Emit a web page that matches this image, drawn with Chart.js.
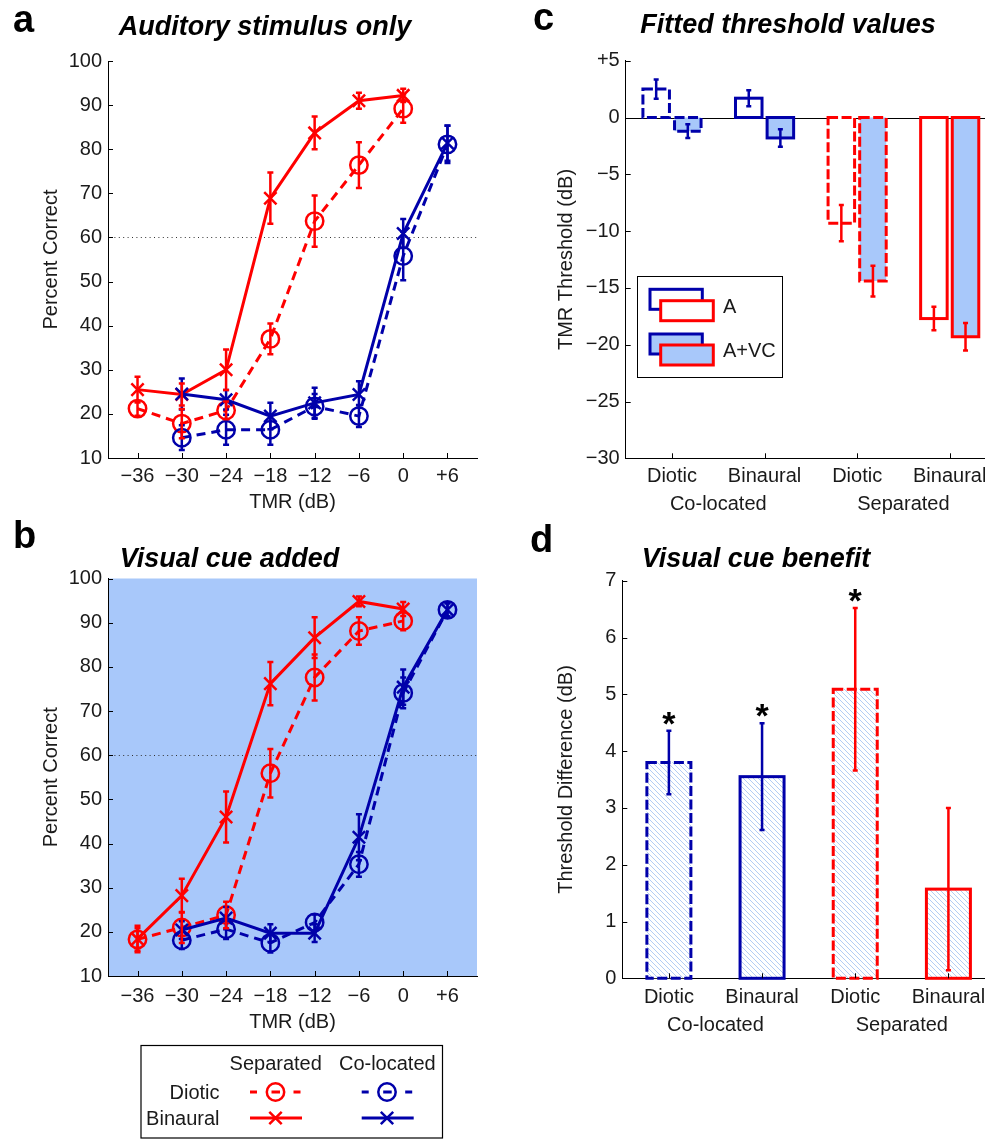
<!DOCTYPE html>
<html>
<head>
<meta charset="utf-8">
<script src="https://cdn.jsdelivr.net/npm/chart.js@4.4.0/dist/chart.umd.min.js"></script>
<style>
html, body { margin: 0; padding: 0; background: #fff; overflow: hidden; width: 985px; height: 1139px; }
canvas { position: absolute; }
</style>
</head>
<body>
<canvas id="ca" width="490" height="530" style="left:0;top:0"></canvas>
<canvas id="cb" width="490" height="634" style="left:0;top:505px"></canvas>
<canvas id="cc" width="496" height="530" style="left:500px;top:0"></canvas>
<canvas id="cd" width="495" height="545" style="left:500px;top:505px"></canvas>
<script>
// ---- panels a & b: percent correct vs TMR ----
const tmrTicks = [-36, -30, -24, -18, -12, -6, 0, 6];
const tmrLabels = ['\u221236', '\u221230', '\u221224', '\u221218', '\u221212', '\u22126', '0', '+6'];
const pctTicks = [10, 20, 30, 40, 50, 60, 70, 80, 90, 100];
const pctLabels = ['10', '20', '30', '40', '50', '60', '70', '80', '90', '100'];
const criterion = 60;

const tmrSep = [-36, -30, -24, -18, -12, -6, 0];
const tmrCol = [-30, -24, -18, -12, -6, 0, 6];

// a: auditory stimulus only
const aSepBin = [25.5, 24.4, 30.0, 68.9, 83.7, 91.0, 92.2];
const aSepBinErr = [2.9, 2.5, 4.6, 5.8, 3.7, 1.8, 1.5];
const aSepDio = [21.2, 17.8, 20.8, 37.0, 63.7, 76.4, 89.2];
const aSepDioErr = [1.6, 3.3, 2.0, 3.5, 5.8, 5.2, 3.2];
const aColBin = [24.5, 23.2, 19.5, 22.5, 24.4, 60.9, 81.4];
const aColBinErr = [3.5, 2.2, 3.0, 3.4, 3.0, 3.3, 4.0];
const aColDio = [14.6, 16.4, 16.4, 21.7, 19.5, 55.8, 81.1];
const aColDioErr = [2.8, 3.4, 3.4, 2.8, 2.5, 5.5, 4.2];

// b: visual cue added
const bSepBin = [18.4, 28.2, 46.0, 76.2, 86.6, 94.8, 93.1];
const bSepBinErr = [3.0, 3.8, 5.8, 4.9, 4.6, 1.1, 1.6];
const bSepDio = [18.3, 21.0, 23.8, 55.9, 77.6, 88.1, 90.4];
const bSepDioErr = [2.5, 3.5, 3.0, 5.5, 5.2, 3.1, 2.1];
const bColBin = [20.4, 23.1, 19.7, 19.7, 41.4, 75.4, 92.9];
const bColBinErr = [2.0, 2.5, 2.0, 2.0, 5.2, 4.0, 1.5];
const bColDio = [18.1, 20.6, 17.5, 22.1, 35.3, 74.1, 92.9];
const bColDioErr = [2.0, 2.2, 2.2, 1.8, 2.8, 3.5, 1.5];

// ---- panels c & d: thresholds ----
const conditions = ['Diotic', 'Binaural', 'Diotic', 'Binaural'];
const groups = ['Co-located', 'Separated'];

const thrA = [2.5, 1.7, -9.3, -17.7];
const thrAErr = [0.85, 0.7, 1.6, 1.03];
const thrAVC = [-1.2, -1.8, -14.4, -19.3];
const thrAVCErr = [0.6, 0.77, 1.35, 1.2];
const thrTicks = [5, 0, -5, -10, -15, -20, -25, -30];
const thrLabels = ['+5', '0', '\u22125', '\u221210', '\u221215', '\u221220', '\u221225', '\u221230'];

const benefit = [3.8, 3.55, 5.09, 1.57];
const benefitErr = [0.56, 0.94, 1.43, 1.43];
const benefitSig = [true, true, true, false];
const benTicks = [0, 1, 2, 3, 4, 5, 6, 7];
const benLabels = ['0', '1', '2', '3', '4', '5', '6', '7'];

const RED = '#ff0000';
const BLUE = '#0000aa';
const LIGHT = '#a8c8fa';
const INK = '#1a1a1a';
const FONT = '"Liberation Sans", Arial, Helvetica, sans-serif';
const condColor = [BLUE, BLUE, RED, RED];
const condDashed = [true, false, true, false];

Chart.defaults.font.family = FONT;
Chart.defaults.color = INK;

function series(label, xs, ys, color, dashed, style) {
    return {
        label: label,
        data: xs.map((x, i) => ({ x: x, y: ys[i] })),
        borderColor: color,
        borderWidth: 3,
        borderDash: dashed ? [9, 6] : [],
        tension: 0,
        pointStyle: style,
        pointRadius: 8.7,
        pointHoverRadius: 8.7,
        pointBorderWidth: 2.5,
        pointBorderColor: color,
        pointBackgroundColor: 'rgba(0,0,0,0)'
    };
}

function yAxis(min, max, width, ticks, labels, title, titlePad) {
    return {
        type: 'linear', min: min, max: max,
        afterFit: s => { s.width = width; },
        afterBuildTicks: s => { s.ticks = ticks.map(v => ({ value: v })); },
        grid: { display: false, drawTicks: false },
        border: { display: true, color: '#000', width: 1 },
        ticks: { padding: 6, color: INK, font: { size: 20 }, autoSkip: false,
                 callback: v => labels[ticks.indexOf(v)] },
        title: { display: true, text: title, color: INK, font: { size: 20 },
                 padding: { top: titlePad, bottom: 0 } }
    };
}

function xLinear(height, tickPad, titlePad) {
    return {
        type: 'linear', min: -40, max: 10,
        afterFit: s => { s.height = height; },
        afterBuildTicks: s => { s.ticks = tmrTicks.map(v => ({ value: v })); },
        grid: { display: false, drawTicks: false },
        border: { display: true, color: '#000', width: 1 },
        ticks: { padding: tickPad, color: INK, font: { size: 20 }, autoSkip: false, maxRotation: 0,
                 callback: v => tmrLabels[tmrTicks.indexOf(v)] },
        title: { display: true, text: 'TMR (dB)', color: INK, font: { size: 20 },
                 padding: { top: 0, bottom: titlePad } }
    };
}

function xCategory(height, tickPad) {
    return {
        type: 'category',
        afterFit: s => { s.height = height; },
        grid: { display: false, drawTicks: false, offset: true },
        border: { display: true, color: '#000', width: 1 },
        ticks: { padding: tickPad, color: INK, font: { size: 20 }, autoSkip: false, maxRotation: 0 }
    };
}

function baseOptions(padTop, padRight) {
    return {
        responsive: false,
        animation: false,
        events: [],
        layout: { padding: { top: padTop, right: padRight, left: 0, bottom: 0 } },
        plugins: { legend: { display: false }, tooltip: { enabled: false } }
    };
}

// ---- plugins ----
function errorBars(errLists, colorOf, cap) {
    return {
        id: 'errorBars',
        afterDatasetsDraw(chart) {
            const ctx = chart.ctx;
            const ys = chart.scales.y;
            chart.data.datasets.forEach((ds, di) => {
                const errs = errLists[di];
                chart.getDatasetMeta(di).data.forEach((el, i) => {
                    const raw = ds.data[i];
                    const v = typeof raw === 'object' ? raw.y : raw;
                    const top = ys.getPixelForValue(v + errs[i]);
                    const bot = ys.getPixelForValue(v - errs[i]);
                    ctx.save();
                    ctx.strokeStyle = colorOf(ds, i);
                    ctx.lineWidth = 2.5;
                    ctx.beginPath();
                    ctx.moveTo(el.x, top); ctx.lineTo(el.x, bot);
                    ctx.moveTo(el.x - cap, top); ctx.lineTo(el.x + cap, top);
                    ctx.moveTo(el.x - cap, bot); ctx.lineTo(el.x + cap, bot);
                    ctx.stroke();
                    ctx.restore();
                });
            });
        }
    };
}

const inwardTicks = {
    id: 'inwardTicks',
    afterDraw(chart) {
        const ctx = chart.ctx, a = chart.chartArea, L = 5;
        ctx.save();
        ctx.strokeStyle = '#000';
        ctx.lineWidth = 1;
        ctx.beginPath();
        chart.scales.x.ticks.forEach((t, i) => {
            const px = Math.round(chart.scales.x.getPixelForTick(i)) + 0.5;
            ctx.moveTo(px, a.bottom); ctx.lineTo(px, a.bottom - L);
        });
        chart.scales.y.ticks.forEach((t, i) => {
            const py = Math.round(chart.scales.y.getPixelForTick(i)) + 0.5;
            ctx.moveTo(a.left, py); ctx.lineTo(a.left + L, py);
        });
        ctx.stroke();
        ctx.restore();
    }
};

const criterionLine = {
    id: 'criterionLine',
    beforeDatasetsDraw(chart) {
        const ctx = chart.ctx, a = chart.chartArea;
        const y = Math.round(chart.scales.y.getPixelForValue(criterion)) + 0.5;
        ctx.save();
        ctx.strokeStyle = '#333';
        ctx.lineWidth = 1;
        ctx.setLineDash([1, 3.4]);
        ctx.beginPath();
        ctx.moveTo(a.left + 2, y); ctx.lineTo(a.right, y);
        ctx.stroke();
        ctx.restore();
    }
};

const blueBackground = {
    id: 'blueBackground',
    beforeDraw(chart) {
        const a = chart.chartArea;
        chart.ctx.save();
        chart.ctx.fillStyle = LIGHT;
        chart.ctx.fillRect(a.left, a.top, a.right - a.left, a.bottom - a.top);
        chart.ctx.restore();
    }
};

const zeroLine = {
    id: 'zeroLine',
    beforeDatasetsDraw(chart) {
        const ctx = chart.ctx, a = chart.chartArea;
        const y = Math.round(chart.scales.y.getPixelForValue(0)) + 0.5;
        ctx.save();
        ctx.strokeStyle = '#000';
        ctx.lineWidth = 1;
        ctx.beginPath();
        ctx.moveTo(a.left, y); ctx.lineTo(a.right, y);
        ctx.stroke();
        ctx.restore();
    }
};

const barOutline = {
    id: 'barOutline',
    afterDatasetsDraw(chart) {
        const ctx = chart.ctx;
        chart.data.datasets.forEach((ds, di) => {
            chart.getDatasetMeta(di).data.forEach((bar, i) => {
                const p = bar.getProps(['x', 'y', 'base', 'width'], true);
                ctx.save();
                ctx.strokeStyle = condColor[i];
                ctx.lineWidth = 3;
                ctx.setLineDash(condDashed[i] ? [10, 3.5] : []);
                ctx.strokeRect(p.x - p.width / 2, Math.min(p.y, p.base), p.width, Math.abs(p.base - p.y));
                ctx.restore();
            });
        });
    }
};

function groupLabels(offset) {
    return {
        id: 'groupLabels',
        afterDraw(chart) {
            const ctx = chart.ctx, xs = chart.scales.x;
            ctx.save();
            ctx.fillStyle = INK;
            ctx.font = '20px ' + FONT;
            ctx.textAlign = 'center';
            ctx.textBaseline = 'middle';
            groups.forEach((g, k) => {
                const x = (xs.getPixelForTick(2 * k) + xs.getPixelForTick(2 * k + 1)) / 2;
                ctx.fillText(g, x, chart.chartArea.bottom + offset);
            });
            ctx.restore();
        }
    };
}

function panelText(letter, lx, ly, title, tx, ty) {
    return {
        id: 'panelText',
        afterDraw(chart) {
            const ctx = chart.ctx;
            ctx.save();
            ctx.fillStyle = '#000';
            ctx.textBaseline = 'alphabetic';
            ctx.font = 'bold 38px ' + FONT;
            ctx.textAlign = 'left';
            ctx.fillText(letter, lx, ly);
            ctx.font = 'italic bold 27px ' + FONT;
            ctx.textAlign = 'center';
            ctx.fillText(title, tx, ty);
            ctx.restore();
        }
    };
}

function markCircle(ctx, x, y) {
    ctx.beginPath();
    ctx.arc(x, y, 8.7, 0, Math.PI * 2);
    ctx.stroke();
}
function markCross(ctx, x, y) {
    const d = 6.2;
    ctx.beginPath();
    ctx.moveTo(x - d, y - d); ctx.lineTo(x + d, y + d);
    ctx.moveTo(x - d, y + d); ctx.lineTo(x + d, y - d);
    ctx.stroke();
}

// legend under panel b
const lineLegend = {
    id: 'lineLegend',
    afterDraw(chart) {
        const ctx = chart.ctx;
        ctx.save();
        ctx.strokeStyle = '#000';
        ctx.lineWidth = 1.2;
        ctx.strokeRect(141, 540.5, 301.5, 92.5);
        ctx.fillStyle = INK;
        ctx.font = '20px ' + FONT;
        ctx.textBaseline = 'alphabetic';
        ctx.textAlign = 'center';
        ctx.fillText('Separated', 275.7, 564.5);
        ctx.fillText('Co-located', 387.3, 564.5);
        ctx.textAlign = 'right';
        ctx.fillText('Diotic', 219.5, 594);
        ctx.fillText('Binaural', 219.5, 620);
        [[RED, 250, 275.5], [BLUE, 361.7, 387]].forEach(([c, x0, xm]) => {
            ctx.strokeStyle = c;
            ctx.lineWidth = 3;
            ctx.setLineDash([7, 14.5, 8.5, 13.5]);
            ctx.beginPath(); ctx.moveTo(x0, 587); ctx.lineTo(x0 + 51, 587); ctx.stroke();
            ctx.setLineDash([]);
            ctx.lineWidth = 2.5;
            markCircle(ctx, xm, 587);
            ctx.lineWidth = 3;
            ctx.beginPath(); ctx.moveTo(x0, 613); ctx.lineTo(x0 + 52, 613); ctx.stroke();
            ctx.lineWidth = 2.5;
            markCross(ctx, xm, 613);
        });
        ctx.restore();
    }
};

// legend inside panel c
const barLegend = {
    id: 'barLegend',
    afterDraw(chart) {
        const ctx = chart.ctx;
        ctx.save();
        ctx.fillStyle = '#fff';
        ctx.fillRect(137.3, 276, 145, 101.3);
        ctx.strokeStyle = '#000';
        ctx.lineWidth = 1;
        ctx.strokeRect(137.5, 276.5, 145, 101);
        [['A', '#fff', 289.3, 300.7, 313], ['A+VC', LIGHT, 334, 345, 357]].forEach(([t, fill, yb, yr, yt]) => {
            ctx.lineWidth = 3;
            ctx.fillStyle = fill;
            ctx.strokeStyle = BLUE;
            ctx.fillRect(150, yb, 52.3, 20);
            ctx.strokeRect(150, yb, 52.3, 20);
            ctx.strokeStyle = RED;
            ctx.fillRect(160.7, yr, 52.6, 20);
            ctx.strokeRect(160.7, yr, 52.6, 20);
            ctx.fillStyle = INK;
            ctx.font = '20px ' + FONT;
            ctx.textAlign = 'left';
            ctx.fillText(t, 223, yt);
        });
        ctx.restore();
    }
};

const stars = {
    id: 'stars',
    afterDatasetsDraw(chart) {
        const ctx = chart.ctx, ys = chart.scales.y;
        ctx.save();
        ctx.fillStyle = '#000';
        ctx.font = 'bold 34px ' + FONT;
        ctx.textAlign = 'center';
        ctx.textBaseline = 'alphabetic';
        chart.getDatasetMeta(0).data.forEach((bar, i) => {
            if (!benefitSig[i]) return;
            const y = ys.getPixelForValue(benefit[i] + benefitErr[i]) - 16;
            ctx.fillText('*', bar.x, y + 20);
        });
        ctx.restore();
    }
};

function hatchPattern() {
    const c = document.createElement('canvas');
    c.width = 5; c.height = 5;
    const g = c.getContext('2d');
    g.fillStyle = '#fff';
    g.fillRect(0, 0, 5, 5);
    g.strokeStyle = '#b3cdf4';
    g.lineWidth = 1;
    g.beginPath();
    g.moveTo(-1, -1); g.lineTo(6, 6);
    g.moveTo(-1, 4); g.lineTo(1, 6);
    g.moveTo(4, -1); g.lineTo(6, 1);
    g.stroke();
    return g.createPattern(c, 'repeat');
}

const dsColor = ds => ds.borderColor;
const condColorOf = (ds, i) => condColor[i];

// ---- panel a ----
const optA = baseOptions(61, 13);
optA.scales = { x: xLinear(72, 6, 16), y: yAxis(10, 100, 108, pctTicks, pctLabels, 'Percent Correct', 39) };
new Chart(document.getElementById('ca'), {
    type: 'line',
    data: { datasets: [
        series('Co-located Diotic', tmrCol, aColDio, BLUE, true, 'circle'),
        series('Co-located Binaural', tmrCol, aColBin, BLUE, false, 'crossRot'),
        series('Separated Diotic', tmrSep, aSepDio, RED, true, 'circle'),
        series('Separated Binaural', tmrSep, aSepBin, RED, false, 'crossRot')
    ] },
    options: optA,
    plugins: [criterionLine, errorBars([aColDioErr, aColBinErr, aSepDioErr, aSepBinErr], dsColor, 3),
              inwardTicks, panelText('a', 13, 32, 'Auditory stimulus only', 265, 35)]
});

// ---- panel b ----
const optB = baseOptions(73.5, 13);
optB.scales = { x: xLinear(163, 8, 105), y: yAxis(10, 100, 108, pctTicks, pctLabels, 'Percent Correct', 39) };
new Chart(document.getElementById('cb'), {
    type: 'line',
    data: { datasets: [
        series('Co-located Diotic', tmrCol, bColDio, BLUE, true, 'circle'),
        series('Co-located Binaural', tmrCol, bColBin, BLUE, false, 'crossRot'),
        series('Separated Diotic', tmrSep, bSepDio, RED, true, 'circle'),
        series('Separated Binaural', tmrSep, bSepBin, RED, false, 'crossRot')
    ] },
    options: optB,
    plugins: [blueBackground, criterionLine, errorBars([bColDioErr, bColBinErr, bSepDioErr, bSepBinErr], dsColor, 3),
              inwardTicks, lineLegend, panelText('b', 13, 43, 'Visual cue added', 229.5, 62)]
});

// ---- panel c ----
const optC = baseOptions(60.7, 0);
optC.scales = { x: xCategory(71.7, 6.4), y: yAxis(-30, 5, 125.7, thrTicks, thrLabels, 'TMR Threshold (dB)', 54.7) };
new Chart(document.getElementById('cc'), {
    type: 'bar',
    data: { labels: conditions, datasets: [
        { label: 'A', data: thrA, backgroundColor: '#fff', borderWidth: 0,
          categoryPercentage: 0.683, barPercentage: 0.839 },
        { label: 'A+VC', data: thrAVC, backgroundColor: LIGHT, borderWidth: 0,
          categoryPercentage: 0.683, barPercentage: 0.839 }
    ] },
    options: optC,
    plugins: [zeroLine, barOutline, errorBars([thrAErr, thrAVCErr], condColorOf, 2.5), inwardTicks,
              groupLabels(46), barLegend, panelText('c', 33, 30, 'Fitted threshold values', 288, 33)]
});

// ---- panel d ----
const optD = baseOptions(75.7, 0);
optD.scales = { x: xCategory(71.7, 7), y: yAxis(0, 7, 122.3, benTicks, benLabels, 'Threshold Difference (dB)', 54.7) };
new Chart(document.getElementById('cd'), {
    type: 'bar',
    data: { labels: conditions, datasets: [
        { label: 'A+VC benefit', data: benefit, backgroundColor: hatchPattern(), borderWidth: 0, barThickness: 44 }
    ] },
    options: optD,
    plugins: [barOutline, errorBars([benefitErr], condColorOf, 2.5), stars, inwardTicks,
              groupLabels(47.5), panelText('d', 30, 47, 'Visual cue benefit', 256, 62)]
});
</script>
</body>
</html>
